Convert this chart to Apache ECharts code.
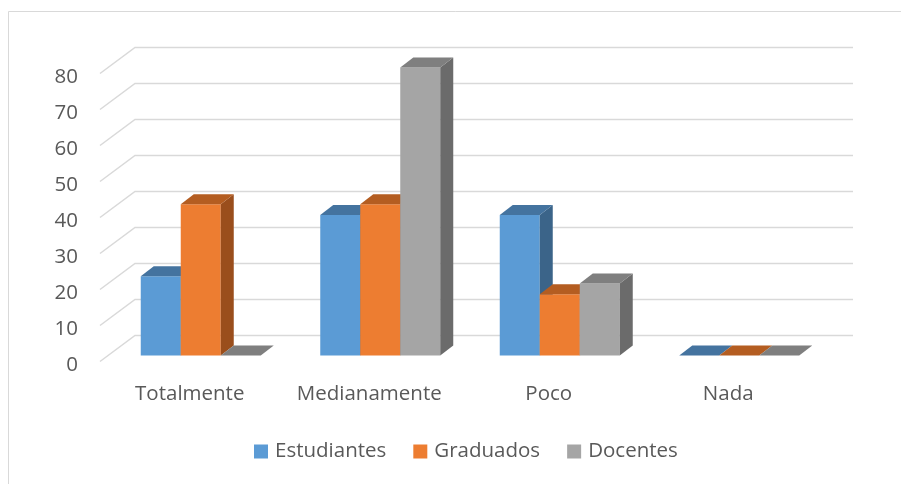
<!DOCTYPE html>
<html>
<head>
<meta charset="utf-8">
<script src="https://cdn.jsdelivr.net/npm/echarts@6/dist/echarts.min.js"></script>
<style>
  html, body { margin: 0; padding: 0; background: #fff; }
  #main { width: 901px; height: 484px; }
</style>
</head>
<body>
<div id="main"></div>
<script>
// data
var categories = ['Totalmente', 'Medianamente', 'Poco', 'Nada'];
var seriesNames = ['Estudiantes', 'Graduados', 'Docentes'];
var estudiantes = [22, 39, 39, 0];
var graduados = [42, 42, 17, 0];
var docentes = [0, 80, 20, 0];
var yTicks = [0, 10, 20, 30, 40, 50, 60, 70, 80];

// colours: front, top, side
var faceColors = [
    ['#5b9bd5', '#44739f', '#3b6489'],
    ['#ed7d31', '#b45d21', '#9a4e1c'],
    ['#a5a5a5', '#7f7f7f', '#6b6b6b']
];
var seriesData = [estudiantes, graduados, docentes];

// 3d look
var wallDx = 35, wallDy = -26;   // front plane -> back wall
var barDx = 11, barDy = -6;      // front plane -> bar front face
var barW = 40, depthX = 13, depthY = -10;
var fontName = '"Open Sans", sans-serif';

function barItem(idx) {
    return function (params, api) {
        var cat = api.value(0);
        var val = api.value(1);
        var base = api.coord([cat, 0]);
        var top = api.coord([cat, val]);
        var l = base[0] + barDx - barW * 1.5 + idx * barW;
        var r = l + barW;
        var b = base[1] + barDy;
        var t = top[1] + barDy;
        var c = faceColors[idx];
        var kids = [];
        if (val > 0) {
            kids.push({
                type: 'rect',
                shape: { x: l, y: t, width: barW, height: b - t },
                style: { fill: c[0] }
            });
            kids.push({
                type: 'polygon',
                shape: { points: [[r, t], [r + depthX, t + depthY], [r + depthX, b + depthY], [r, b]] },
                style: { fill: c[2] }
            });
        }
        kids.push({
            type: 'polygon',
            shape: { points: [[l, t], [r, t], [r + depthX, t + depthY], [l + depthX, t + depthY]] },
            style: { fill: c[1] }
        });
        return { type: 'group', children: kids };
    };
}

function gridItem(params, api) {
    var v = api.value(0);
    var p0 = api.coord([0, v]);
    var rect = params.coordSys;
    var x0 = rect.x, x1 = rect.x + rect.width;
    var y = p0[1];
    return {
        type: 'polyline',
        shape: { points: [[x0, y], [x0 + wallDx, y + wallDy], [x1 + wallDx, y + wallDy]] },
        style: { stroke: '#d9d9d9', lineWidth: 1.5, fill: null }
    };
}

var series = [{
    type: 'custom',
    name: 'grid',
    renderItem: gridItem,
    data: yTicks.map(function (v) { return [v]; }),
    encode: { y: 0 },
    silent: true,
    z: 1
}];
seriesNames.forEach(function (name, i) {
    series.push({
        type: 'custom',
        name: name,
        renderItem: barItem(i),
        itemStyle: { color: faceColors[i][0] },
        data: seriesData[i].map(function (v, k) { return [k, v]; }),
        encode: { x: 0, y: 1 },
        z: 2 + i
    });
});

var myChart = echarts.init(document.getElementById('main'));
var option = {
    backgroundColor: '#fff',
    animation: false,
    graphic: [{
        type: 'rect',
        shape: { x: 8.5, y: 11.5, width: 1200, height: 1000 },
        style: { fill: null, stroke: '#d9d9d9', lineWidth: 1 },
        silent: true
    }],
    grid: { left: 100, right: 83, top: 73.5, bottom: 122.5 },
    xAxis: {
        type: 'category',
        data: categories,
        axisLine: { show: false },
        axisTick: { show: false },
        axisLabel: { color: '#595959', fontSize: 20.5, fontFamily: fontName, margin: 22, interval: 0 }
    },
    yAxis: {
        type: 'value',
        min: 0,
        max: 80,
        interval: 10,
        axisLine: { show: false },
        axisTick: { show: false },
        splitLine: { show: false },
        axisLabel: {
            color: '#595959', fontSize: 20.5, fontFamily: fontName, margin: 22,
            formatter: '{a|{value}}',
            rich: { a: { color: '#595959', fontSize: 20.5, fontFamily: fontName, padding: [7, 0, 0, 0] } }
        }
    },
    legend: {
        data: seriesNames,
        bottom: 17,
        left: 249,
        icon: 'rect',
        itemWidth: 14,
        itemHeight: 14,
        itemGap: 27,
        itemStyle: { borderWidth: 0 },
        textStyle: { color: '#595959', fontSize: 20.5, fontFamily: fontName, padding: [0, 0, 0, 2] }
    },
    series: series
};
myChart.setOption(option);
</script>
</body>
</html>
